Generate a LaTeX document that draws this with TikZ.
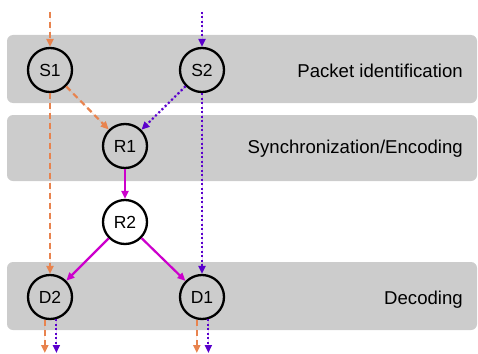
\documentclass[tikz,border=0pt]{standalone}
\usepackage{fontspec}
\setmainfont{Liberation Sans}
\usetikzlibrary{arrows.meta}
\definecolor{orng}{HTML}{E8834E}
\definecolor{purp}{HTML}{5A00CC}
\definecolor{magn}{HTML}{CC00CC}
\begin{document}
\begin{tikzpicture}[x=1pt,y=-1pt,
  band/.style={fill=black!20, rounded corners=6pt},
  st/.style={circle, draw=black, line width=2.3pt, minimum size=44pt, inner sep=0pt, font=\fontsize{17.5}{17.5}\selectfont},
  lbl/.style={anchor=base east, font=\fontsize{18.6}{18.6}\selectfont, inner sep=0pt},
  tip/.style={-{Triangle[length=8pt,width=7pt]}},
  orl/.style={tip, draw=orng, fill=orng, line width=2.2pt, dash pattern=on 6pt off 4pt},
  pul/.style={tip, draw=purp, fill=purp, line width=2.2pt, dash pattern=on 2pt off 2.5pt},
  mgl/.style={tip, draw=magn, fill=magn, line width=2.2pt}]
\useasboundingbox (0,0) rectangle (478,353);
\fill[band] (7,35) rectangle (477,103);
\fill[band] (7,115) rectangle (477,181);
\fill[band] (7,262) rectangle (477,330);

\node[lbl] (l1) at (463,77) {Packet identification};
\node[lbl] (l2) at (463,153) {Synchronization/Encoding};
\node[lbl] (l3) at (463,304) {Decoding};

\node[st] (S1) at (50,70) {S1};
\node[st] (S2) at (202,70) {S2};
\node[st] (R1) at (125,146) {R1};
\node[st] (R2) at (125,222) {R2};
\node[st] (D2) at (50,297) {D2};
\node[st] (D1) at (202,297) {D1};

\coordinate (t1) at (50,12);
\coordinate (t2) at (202,12);
\coordinate (bot) at (0,353);

\draw[orl] (t1) -- (S1);
\draw[pul] (t2) -- (S2);
\draw[orl] (S1) -- (R1);
\draw[pul] (S2) -- (R1);
\draw[orl] (S1) -- (D2);
\draw[pul] (S2) -- (D1);
\draw[mgl] (R1) -- (R2);
\draw[mgl] (R2) -- (D2);
\draw[mgl] (R2) -- (D1);

\draw[orl] (D2.-103) -- (D2.-103 |- bot);
\draw[pul] (D2.-74) -- (D2.-74 |- bot);
\draw[orl] (D1.-103) -- (D1.-103 |- bot);
\draw[pul] (D1.-74) -- (D1.-74 |- bot);
\end{tikzpicture}
\end{document}
